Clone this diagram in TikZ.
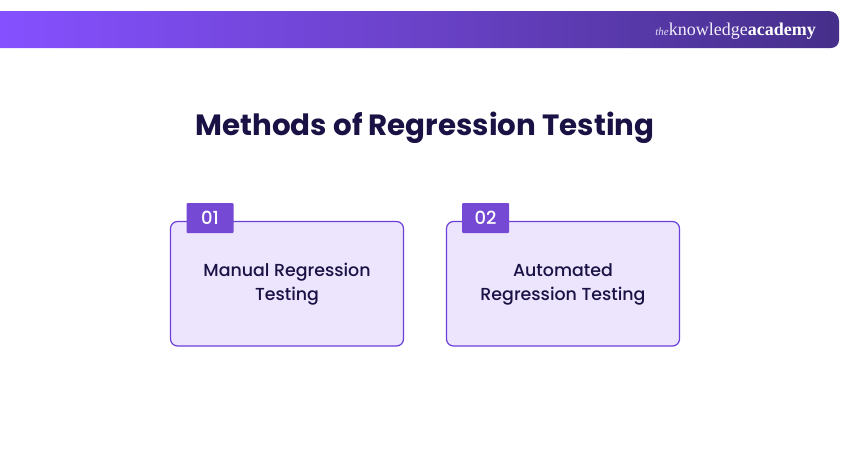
\documentclass[tikz,border=0pt]{standalone}
\usepackage{fontspec}
\setmainfont{Poppins}
\newfontfamily\medfont{Poppins Medium}
\newfontfamily\logofont{Liberation Serif}
\definecolor{ink}{HTML}{1A1245}
\definecolor{tagc}{HTML}{7549D4}
\definecolor{boxfill}{HTML}{ECE5FD}
\definecolor{boxline}{HTML}{6B3FD8}
\definecolor{bandl}{HTML}{8550FF}
\definecolor{bandm}{HTML}{6A42C8}
\definecolor{bandr}{HTML}{452F8A}
\tikzset{
  x=1pt,y=-1pt,
  card/.style={draw=boxline,line width=1.2pt,fill=boxfill,rounded corners=7pt},
  tagbox/.style={fill=tagc,rounded corners=1pt},
  tagtext/.style={text=white,font=\medfont\fontsize{18}{22}\selectfont,inner sep=0pt},
  cardtext/.style={text=ink,font=\medfont\fontsize{17.4}{24}\selectfont,align=center,inner sep=0pt},
}
\begin{document}
\begin{tikzpicture}
\useasboundingbox (0,0) rectangle (850,450);
\fill[white] (0,0) rectangle (850,450);
\shade[left color=bandl,right color=bandr,middle color=bandm]
  (0,11) -- (829,11) arc[start angle=90,end angle=0,x radius=10,y radius=-10] -- (839,40)
  arc[start angle=0,end angle=-90,x radius=8,y radius=-8] -- (0,48) -- cycle;
\node[inner sep=0pt,text=white,anchor=base east] (logo) at (816,35.5)
  {\logofont\fontsize{18}{20}\selectfont{\fontsize{11}{12}\selectfont\itshape\color{white!80!bandm}the}\color{white!92!bandm}knowledge\textbf{\color{white}academy}};
\node[inner sep=0pt,text=ink,font=\fontsize{29.3}{36}\selectfont\bfseries] (title) at (425,127.5) {Methods of Regression Testing};

\draw[card] (170.5,221.5) rectangle (403.5,346) ;
\node[tagbox,minimum width=47pt,minimum height=30pt,inner sep=0pt] (tag1) at (210,218) {};
\node[tagtext] (num1) at (210,218) {01};
\node[cardtext] (label1) at (287,284) {Manual Regression\\Testing};

\draw[card] (446.5,221.5) rectangle (679.5,346);
\node[tagbox,minimum width=47pt,minimum height=30pt,inner sep=0pt] (tag2) at (485.5,218) {};
\node[tagtext] (num2) at (485.5,218) {02};
\node[cardtext] (label2) at (563,284) {Automated\\Regression Testing};
\end{tikzpicture}
\end{document}
